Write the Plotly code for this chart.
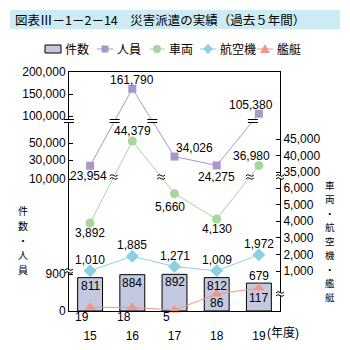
import numpy as np
import plotly.graph_objects as go

# ---------------- data ----------------
years = ["15", "16", "17", "18", "19"]
year_unit = "(年度)"
cases = [811, 884, 892, 812, 679]                    # 件数
personnel = [23954, 161790, 34026, 24275, 105380]    # 人員
vehicles = [3892, 44379, 5660, 4130, 36980]          # 車両
aircraft = [1010, 1885, 1271, 1009, 1972]            # 航空機
ships = [19, 18, 5, 86, 117]                         # 艦艇

left_tick_values = [0, 900, 10000, 30000, 50000, 100000, 150000, 200000]
right_tick_values = [1000, 2000, 3000, 4000, 5000, 6000, 35000, 40000, 45000]

title_text = "図表Ⅲ－1－2－14　災害派遣の実績（過去５年間）"
legend_names = ["件数", "人員", "車両", "航空機", "艦艇"]
left_title = "件数・人員"
right_title = "車両・航空機・艦艇"

# ---------------- geometry / style ----------------
W = H = 350
PL, PR, PT, PB = 69, 280, 72, 311
PW, PH = PR - PL, PB - PT

# broken scales: value -> height above baseline (px)
LEFT_SCALE = ([0, 900, 10000, 30000, 50000, 100000, 150000, 200000],
              [0, 37, 132, 151, 168, 195, 217, 239])
RIGHT_SCALE = ([0, 117, 1000, 6000, 35000, 45000],
               [0, 23, 40, 123, 139, 172])
LEFT_BREAKS = [40, 190]
RIGHT_BREAKS = [17, 134]


def left_scale(v):
    return np.interp(v, *LEFT_SCALE)


def right_scale(v):
    return np.interp(v, *RIGHT_SCALE)


def px_x(px):
    return (px - PL) / PW


def px_y(py):
    return (PB - py) / PH


C_BAR = "#C3CADF"
C_PUR = "#A897CB"
C_GRN = "#A6D69C"
C_CYN = "#8ED0E0"
C_SAL = "#F2968B"
NUMFONT = "Liberation Sans, Arial, Noto Sans CJK JP"
JPFONT = "Noto Sans CJK JP"

xs = np.arange(len(years))
h_cases = left_scale(cases)
h_pers = left_scale(personnel)
h_veh = right_scale(vehicles)
h_air = right_scale(aircraft)
h_shp = right_scale(ships)

fig = go.Figure()
fig.add_trace(go.Bar(
    x=xs, y=h_cases, width=0.59, marker=dict(color=C_BAR, line=dict(color="black", width=1)),
    cliponaxis=False, hoverinfo="skip", showlegend=False))

fig.add_trace(go.Scatter(x=xs, y=h_pers, mode="lines+markers",
                         line=dict(color=C_PUR, width=1),
                         marker=dict(symbol="square", size=8, color=C_PUR),
                         cliponaxis=False, showlegend=False, hoverinfo="skip"))
fig.add_trace(go.Scatter(x=xs, y=h_veh, mode="lines+markers", yaxis="y2",
                         line=dict(color=C_GRN, width=1),
                         marker=dict(symbol="circle", size=9, color=C_GRN),
                         cliponaxis=False, showlegend=False, hoverinfo="skip"))
fig.add_trace(go.Scatter(x=xs, y=h_air, mode="lines+markers", yaxis="y2",
                         line=dict(color=C_CYN, width=1),
                         marker=dict(symbol="diamond", size=10, color=C_CYN),
                         cliponaxis=False, showlegend=False, hoverinfo="skip"))
fig.add_trace(go.Scatter(x=xs, y=h_shp, mode="lines+markers", yaxis="y2",
                         line=dict(color=C_SAL, width=1),
                         marker=dict(symbol="triangle-up", size=10, color=C_SAL),
                         cliponaxis=False, showlegend=False, hoverinfo="skip"))

annotations = []
shapes = []

# data labels (offsets are style: dx right, dy down, px)
label_sets = [
    (cases, h_cases, [(0, 8), (0, 8), (0, 8), (0, 8), (0, -7)]),
    (personnel, h_pers, [(-2, 10), (0, -9), (20, -9), (0, 12), (-8, -9)]),
    (vehicles, h_veh, [(0, 10), (0, -10), (-5, 13), (0, 10), (-7, -9)]),
    (aircraft, h_air, [(0, -11)] * 5),
    (ships, h_shp, [(-8, 10), (-8, 10), (-8, 7), (0, 9), (0, 10)]),
]
for vals, hs, offs in label_sets:
    for i, (v, h) in enumerate(zip(vals, hs)):
        dx, dy = offs[i]
        annotations.append(dict(x=xs[i], y=h, xref="x", yref="y", text=f"{v:,}",
                                showarrow=False, xshift=dx, yshift=-dy,
                                font=dict(size=12, family=NUMFONT, color="black")))


# break marks
def eq_mark(x, h, xref="x", w=5, gap=1.5):
    base = dict(xref=xref, yref="y", xsizemode="pixel", ysizemode="pixel",
                xanchor=x, yanchor=h)
    return [
        dict(type="rect", x0=-w, x1=w, y0=-gap, y1=gap, fillcolor="white",
             line=dict(width=0), **base),
        dict(type="line", x0=-w, x1=w, y0=gap, y1=gap, line=dict(color="black", width=1), **base),
        dict(type="line", x0=-w, x1=w, y0=-gap, y1=-gap, line=dict(color="black", width=1), **base),
    ]


def wave_mark(x, h, xref="x", w=4):
    base = dict(xref=xref, yref="y", xsizemode="pixel", ysizemode="pixel",
                xanchor=x, yanchor=h)
    return [
        dict(type="rect", x0=-w, x1=w, y0=-1.5, y1=1.5, fillcolor="white",
             line=dict(width=0), **base),
        dict(type="path", path=f"M{-w},1 Q{-w/2},3.5 0,1.5 T{w},2", line=dict(color="black", width=1), **base),
        dict(type="path", path=f"M{-w},-2 Q{-w/2},0.5 0,-1.5 T{w},-1", line=dict(color="black", width=1), **base),
    ]


def crossings(hs, level):
    out = []
    for i in range(len(hs) - 1):
        h0, h1 = hs[i], hs[i + 1]
        if (h0 - level) * (h1 - level) < 0:
            t = (level - h0) / (h1 - h0)
            out.append(xs[i] + t * (xs[i + 1] - xs[i]))
    return out


for xc in crossings(h_pers, LEFT_BREAKS[1]):
    shapes += eq_mark(xc, LEFT_BREAKS[1])
for xc in crossings(h_veh, RIGHT_BREAKS[1]):
    shapes += wave_mark(xc, RIGHT_BREAKS[1])
shapes += eq_mark(0, LEFT_BREAKS[1], xref="paper", w=5)
shapes += wave_mark(0, LEFT_BREAKS[0], xref="paper")
shapes += wave_mark(1, RIGHT_BREAKS[0], xref="paper")
shapes += wave_mark(1, RIGHT_BREAKS[1], xref="paper")

# title band
shapes.append(dict(type="rect", xref="paper", yref="paper", x0=px_x(10), x1=px_x(340),
                   y0=px_y(29), y1=px_y(10), fillcolor="#CDEBF4", line=dict(width=0), layer="below"))
annotations.append(dict(xref="paper", yref="paper", x=px_x(13), y=px_y(19.5), xanchor="left",
                        yanchor="middle", text=title_text, showarrow=False,
                        font=dict(size=12.5, family=JPFONT, color="black")))

# legend (drawn manually)
LY = 49
leg_items = [
    ("box", C_BAR, 45, 63),
    ("square", C_PUR, 97, 115),
    ("circle", C_GRN, 149, 167),
    ("diamond", C_CYN, 200, 218),
    ("triangle", C_SAL, 257, 275),
]
for (kind, col, x0, tx), name in zip(leg_items, legend_names):
    if kind == "box":
        shapes.append(dict(type="rect", xref="paper", yref="paper", x0=px_x(x0), x1=px_x(x0 + 16),
                           y0=px_y(LY + 4), y1=px_y(LY - 4), fillcolor=col,
                           line=dict(color="black", width=1)))
    else:
        cx = x0 + 8
        shapes.append(dict(type="line", xref="paper", yref="paper", x0=px_x(x0), x1=px_x(x0 + 16),
                           y0=px_y(LY), y1=px_y(LY), line=dict(color=col, width=1)))
        base = dict(xref="paper", yref="paper", xsizemode="pixel", ysizemode="pixel",
                    xanchor=px_x(cx), yanchor=px_y(LY), fillcolor=col, line=dict(width=0))
        if kind == "square":
            shapes.append(dict(type="rect", x0=-3.5, x1=3.5, y0=-3.5, y1=3.5, **base))
        elif kind == "circle":
            shapes.append(dict(type="circle", x0=-4, x1=4, y0=-4, y1=4, **base))
        elif kind == "diamond":
            shapes.append(dict(type="path", path="M0,5 L5,0 L0,-5 L-5,0 Z", **base))
        else:
            shapes.append(dict(type="path", path="M0,5 L5,-4 L-5,-4 Z", **base))
    annotations.append(dict(xref="paper", yref="paper", x=px_x(tx), y=px_y(LY), xanchor="left",
                            yanchor="middle", text=name, showarrow=False,
                            font=dict(size=12, family=JPFONT, color="black")))


# axis titles (vertical writing: one upright character per cell, cells don't overlap)
def vertical_title(text, cx, cy, size, pitch):
    n = len(text)
    top = cy - pitch * (n - 1) / 2
    for i, ch in enumerate(text):
        annotations.append(dict(xref="paper", yref="paper", x=px_x(cx), y=px_y(top + i * pitch),
                                text=ch, showarrow=False, xanchor="center", yanchor="middle",
                                borderpad=0,
                                font=dict(size=size, family=JPFONT, color="black")))


vertical_title(left_title, 23, 240, 10, 14.6)
vertical_title(right_title, 330, 241, 9.5, 13.9)

# year unit next to the last category label
annotations.append(dict(x=xs[-1], xref="x", yref="paper", y=px_y(333), xshift=6.5,
                        xanchor="left", yanchor="middle", text=year_unit, showarrow=False,
                        font=dict(size=12, family=NUMFONT, color="black")))

axis_common = dict(showgrid=False, zeroline=False, showline=True, linecolor="black",
                   linewidth=1, fixedrange=True, range=[0, PH], automargin=False,
                   tickfont=dict(size=12, family=NUMFONT, color="black"),
                   ticks="inside", ticklen=4, tickcolor="black")

fig.update_layout(
    width=W, height=H,
    margin=dict(l=PL, r=W - PR, t=PT, b=H - PB, autoexpand=False),
    paper_bgcolor="white", plot_bgcolor="white",
    showlegend=False, hovermode=False,
    font=dict(family=NUMFONT, size=12, color="black"),
    xaxis=dict(range=[-0.5, len(years) - 0.5], tickvals=xs, ticktext=years,
               showgrid=False, zeroline=False, showline=True, mirror=True,
               linecolor="black", linewidth=1, ticks="", ticklabelstandoff=14,
               automargin=False,
               tickfont=dict(size=12, family=NUMFONT, color="black"), fixedrange=True),
    yaxis=dict(tickvals=left_scale(left_tick_values),
               ticktext=[f"{v:,}" for v in left_tick_values], **axis_common),
    yaxis2=dict(overlaying="y", side="right",
                tickvals=right_scale(right_tick_values),
                ticktext=[f"{v:,}" for v in right_tick_values], **axis_common),
    shapes=shapes, annotations=annotations,
)

fig.write_html("out.html")
